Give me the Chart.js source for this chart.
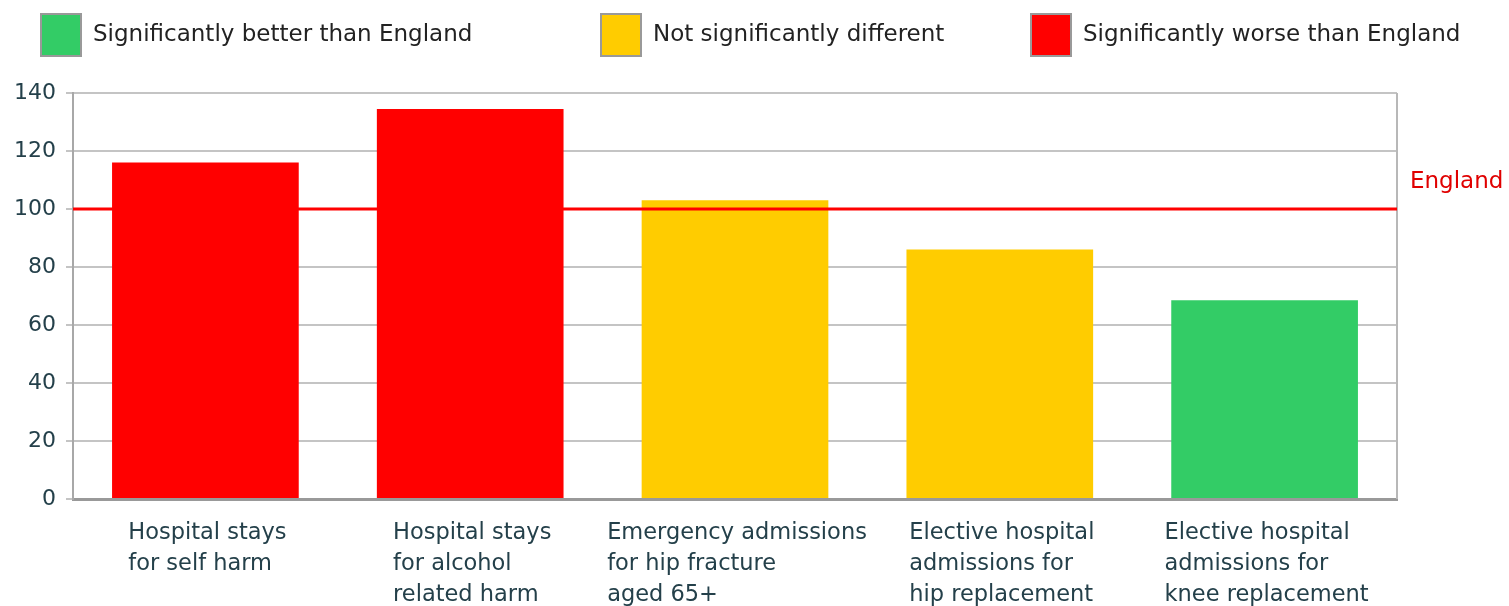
<!DOCTYPE html>
<html>
<head>
<meta charset="utf-8">
<script src="https://cdn.jsdelivr.net/npm/chart.js@4.4.0/dist/chart.umd.min.js"></script>
<style>
    html, body { margin: 0; padding: 0; background: #ffffff; }
    .chart { width: 1509px; height: 606px; position: relative; }
</style>
</head>
<body>
<div class="chart"><canvas id="indicators"></canvas></div>
<script>
// Data
const categories = [
    ["Hospital stays", "for self harm"],
    ["Hospital stays", "for alcohol", "related harm"],
    ["Emergency admissions", "for hip fracture", "aged 65+"],
    ["Elective hospital", "admissions for", "hip replacement"],
    ["Elective hospital", "admissions for", "knee replacement"]
];
const values = [116, 134.5, 103, 86, 68.5];
const significance = ["worse", "worse", "similar", "similar", "better"];
const englandValue = 100;
const englandLabel = "England";
const yTicks = [0, 20, 40, 60, 80, 100, 120, 140];
const legendKeys = ["better", "similar", "worse"];
const legendLabels = ["Significantly better than England", "Not significantly different", "Significantly worse than England"];

// Style
const colours = {better: "#33cc66", similar: "#ffcc00", worse: "#ff0000"};
const fontFamily = "'DejaVu Sans', Verdana, sans-serif";
const fontSize = 23;
const textColour = "#24404a";
const legendX = [41, 601, 1031];

// Plugin
const decorations = {
    id: "decorations",
    afterDatasetsDraw(chart) {
        const {ctx, chartArea, scales: {x, y}} = chart;
        ctx.save();

        // plot frame right edge
        ctx.strokeStyle = "#b8b8b8";
        ctx.lineWidth = 2;
        ctx.beginPath();
        ctx.moveTo(chartArea.right, chartArea.top);
        ctx.lineTo(chartArea.right, chartArea.bottom);
        ctx.stroke();

        // England reference line
        let ey = y.getPixelForValue(englandValue);
        ctx.strokeStyle = "#ff0000";
        ctx.lineWidth = 3;
        ctx.beginPath();
        ctx.moveTo(chartArea.left, ey);
        ctx.lineTo(chartArea.right, ey);
        ctx.stroke();
        ctx.fillStyle = "#e00000";
        ctx.font = fontSize + "px " + fontFamily;
        ctx.textAlign = "left";
        ctx.textBaseline = "middle";
        ctx.fillText(englandLabel, chartArea.right + 13, ey - 27);

        // category labels: left aligned lines, block centred on category
        ctx.fillStyle = textColour;
        ctx.font = "22.5px " + fontFamily;
        categories.forEach((lines, i) => {
            let cx = x.getPixelForValue(i) + 2;
            let w = Math.max(...lines.map(l => ctx.measureText(l).width));
            lines.forEach((line, j) => {
                ctx.fillText(line, cx - w / 2, chartArea.bottom + 34 + j * 31);
            });
        });

        // legend
        ctx.font = fontSize + "px " + fontFamily;
        legendKeys.forEach((key, i) => {
            let lx = legendX[i];
            ctx.fillStyle = colours[key];
            ctx.fillRect(lx, 14, 40, 42);
            ctx.strokeStyle = "#999999";
            ctx.lineWidth = 2;
            ctx.strokeRect(lx, 14, 40, 42);
            ctx.fillStyle = "#222222";
            ctx.fillText(legendLabels[i], lx + 52, 35);
        });

        ctx.restore();
    }
};

// Chart
new Chart(document.getElementById("indicators"), {
    type: "bar",
    data: {
        labels: categories,
        datasets: [
            {
                label: "Indicator value",
                data: values,
                backgroundColor: significance.map(s => colours[s]),
                borderWidth: 0,
                barPercentage: 0.705,
                categoryPercentage: 1
            }
        ]
    },
    options: {
        responsive: true,
        maintainAspectRatio: false,
        animation: false,
        layout: {
            padding: {top: 93, right: 112, bottom: 99, left: 0}
        },
        plugins: {
            legend: {display: false},
            tooltip: {enabled: false}
        },
        scales: {
            x: {
                grid: {display: false},
                border: {display: true, color: "#999999", width: 3},
                ticks: {display: false}
            },
            y: {
                min: 0,
                max: 140,
                afterBuildTicks: (scale) => {
                    scale.ticks = yTicks.map(v => ({value: v}));
                },
                afterFit: (scale) => {
                    scale.width = 73;
                },
                grid: {
                    color: "#c4c4c4",
                    lineWidth: 2,
                    tickLength: 7
                },
                border: {display: true, color: "#a8a8a8", width: 2},
                ticks: {
                    color: textColour,
                    padding: 10,
                    font: {family: fontFamily, size: 22}
                }
            }
        }
    },
    plugins: [decorations]
});
</script>
</body>
</html>
